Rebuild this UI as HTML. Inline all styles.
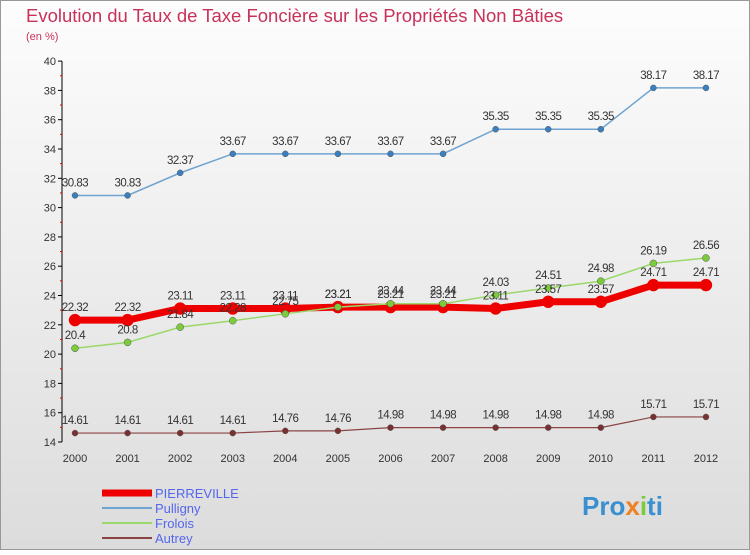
<!DOCTYPE html>
<html><head><meta charset="utf-8"><style>
body{margin:0;width:750px;height:550px;overflow:hidden;font-family:"Liberation Sans",sans-serif}
</style></head><body>
<svg width="750" height="550" xmlns="http://www.w3.org/2000/svg">
<defs><linearGradient id="bg" x1="0" y1="0" x2="0" y2="1"><stop offset="0" stop-color="#fdfdfd"/><stop offset="1" stop-color="#dcdcdc"/></linearGradient></defs>
<rect x="0.5" y="0.5" width="749" height="549" fill="url(#bg)" stroke="#999"/>
<text x="26" y="22" font-size="18.5" fill="#c8325a">Evolution du Taux de Taxe Foncière sur les Propriétés Non Bâties</text>
<text x="26" y="40" font-size="11" fill="#c8325a">(en %)</text>
<g id="axes"></g><g id="series"></g><g id="labels"></g>
<g>
<line x1="102" y1="493" x2="152" y2="493" stroke="#e00" stroke-width="7"/><text x="155" y="498" font-size="13" fill="#5566ee">PIERREVILLE</text>
<line x1="102" y1="508" x2="152" y2="508" stroke="#6fa4d0" stroke-width="2"/><text x="155" y="513" font-size="13" fill="#5566ee">Pulligny</text>
<line x1="102" y1="523" x2="152" y2="523" stroke="#9ad86a" stroke-width="2"/><text x="155" y="528" font-size="13" fill="#5566ee">Frolois</text>
<line x1="102" y1="538" x2="152" y2="538" stroke="#8a4444" stroke-width="2"/><text x="155" y="543" font-size="13" fill="#5566ee">Autrey</text>
</g>
<text x="582" y="515" font-size="26" font-weight="bold" fill="#3a8fd0">Pro<tspan fill="#f08020">x</tspan><tspan fill="#7acc3a">i</tspan>ti</text>
</svg>
<script>
const years=[2000,2001,2002,2003,2004,2005,2006,2007,2008,2009,2010,2011,2012];
const pierreville=[22.32,22.32,23.11,23.11,23.11,23.21,23.21,23.21,23.11,23.57,23.57,24.71,24.71];
const pulligny=[30.83,30.83,32.37,33.67,33.67,33.67,33.67,33.67,35.35,35.35,35.35,38.17,38.17];
const frolois=[20.4,20.8,21.84,22.28,22.75,23.21,23.44,23.44,24.03,24.51,24.98,26.19,26.56];
const autrey=[14.61,14.61,14.61,14.61,14.76,14.76,14.98,14.98,14.98,14.98,14.98,15.71,15.71];
const yTicks=[14,16,18,20,22,24,26,28,30,32,34,36,38,40];
const NS="http://www.w3.org/2000/svg";
const x=i=>75+i*52.58, y=v=>442-(v-14)*14.65;
function mk(t,a,p){const e=document.createElementNS(NS,t);for(const k in a)e.setAttribute(k,a[k]);document.getElementById(p).appendChild(e);return e;}
mk('line',{x1:62,y1:y(40),x2:62,y2:y(14),stroke:'#000'},'axes');
yTicks.forEach(v=>{mk('line',{x1:58,y1:y(v),x2:62,y2:y(v),stroke:'#000'},'axes');
const t=mk('text',{x:56,y:y(v)+4,'font-size':11,fill:'#333','text-anchor':'end'},'axes');t.textContent=v;


if(v<40)mk('line',{x1:60,y1:y(v+1),x2:62,y2:y(v+1),stroke:'#e00'},'axes');});
years.forEach((yr,i)=>{const t=mk('text',{x:x(i),y:462,'font-size':11,fill:'#333','text-anchor':'middle'},'axes');t.textContent=yr;

});
function series(d,name,col,w,r,dot){
const p=mk('polyline',{points:d.map((v,i)=>x(i)+','+y(v)).join(' '),fill:'none',stroke:col,'stroke-width':w},'series');


d.forEach((v,i)=>{const c=mk('circle',{cx:x(i),cy:y(v),r:r,fill:dot,stroke:col==='#e00'?'#e00':'#555','stroke-width':0.5},'series');


const t=mk('text',{x:x(i),y:y(v)-9,'font-size':11.5,fill:'#333','text-anchor':'middle','letter-spacing':'-0.5'},'labels');t.textContent=v;

});}
series(autrey,'autrey','#8a4444',1.2,3,'#7a3030');
series(pierreville,'pierreville','#e00',7,6,'#e00');
series(pulligny,'pulligny','#6fa4d0',1.5,3,'#3a80c0');
series(frolois,'frolois','#9ad86a',1.5,3.5,'#7acc3a');
</script>
</body></html>
